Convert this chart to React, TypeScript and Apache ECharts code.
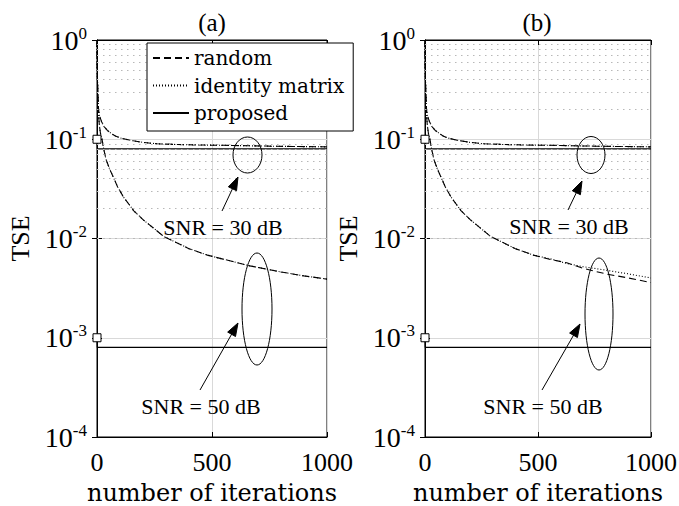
import React, { useEffect, useRef } from 'react';
import * as echarts from 'echarts';

const FONT = 'Liberation Serif, Times New Roman, serif';
const FONT_WIDE = 'DejaVu Serif, serif';

// ---- data ----
// panel (a), SNR = 30 dB
const iterA30 = [0, 1, 2, 4, 6, 10, 20, 30, 45, 60, 80, 100, 150, 200, 260, 350, 450, 550, 650, 750, 850, 1000];
const randomA30 = [1.0, 0.55, 0.4, 0.27, 0.21, 0.175, 0.15, 0.135, 0.123, 0.115, 0.108, 0.103, 0.097, 0.093, 0.09, 0.0885, 0.0875, 0.087, 0.086, 0.0852, 0.0846, 0.0838];
const identityA30 = [1.0, 0.55, 0.4, 0.27, 0.21, 0.175, 0.15, 0.135, 0.123, 0.115, 0.108, 0.103, 0.097, 0.093, 0.09, 0.0885, 0.0875, 0.087, 0.086, 0.0852, 0.0846, 0.0838];
// panel (a), SNR = 50 dB
const iterA50 = [0, 1, 2, 4, 6, 10, 15, 22, 30, 40, 55, 72, 90, 116, 160, 200, 290, 400, 480, 560, 665, 800, 900, 1000];
const randomA50 = [1.0, 0.55, 0.4, 0.27, 0.19, 0.14, 0.115, 0.1, 0.078, 0.062, 0.05, 0.041, 0.033, 0.026, 0.019, 0.0155, 0.0105, 0.0079, 0.0068, 0.0061, 0.0053, 0.0046, 0.0042, 0.0039];
const identityA50 = [1.0, 0.55, 0.4, 0.27, 0.19, 0.14, 0.115, 0.1, 0.078, 0.062, 0.05, 0.041, 0.033, 0.026, 0.019, 0.0155, 0.0105, 0.0079, 0.0068, 0.0061, 0.0053, 0.0046, 0.0042, 0.0039];
// panel (b), SNR = 30 dB
const iterB30 = [0, 1, 2, 4, 6, 10, 20, 30, 45, 60, 80, 100, 150, 200, 260, 350, 450, 550, 650, 750, 850, 1000];
const randomB30 = [1.0, 0.55, 0.4, 0.27, 0.21, 0.175, 0.15, 0.135, 0.123, 0.116, 0.108, 0.103, 0.097, 0.093, 0.09, 0.0885, 0.0875, 0.087, 0.086, 0.0852, 0.0846, 0.0838];
const identityB30 = [1.0, 0.55, 0.4, 0.27, 0.21, 0.175, 0.15, 0.135, 0.123, 0.116, 0.108, 0.103, 0.097, 0.093, 0.09, 0.0885, 0.0875, 0.087, 0.086, 0.0852, 0.0846, 0.0838];
// panel (b), SNR = 50 dB
const iterB50 = [0, 1, 2, 4, 6, 10, 15, 22, 30, 40, 55, 72, 90, 116, 160, 200, 290, 400, 480, 560, 627, 700, 800, 900, 1000];
const randomB50 = [1.0, 0.55, 0.4, 0.27, 0.19, 0.14, 0.115, 0.1, 0.078, 0.062, 0.05, 0.041, 0.033, 0.026, 0.019, 0.0155, 0.0105, 0.0079, 0.0068, 0.0061, 0.0057, 0.005, 0.0044, 0.004, 0.0036];
const identityB50 = [1.0, 0.55, 0.4, 0.27, 0.19, 0.14, 0.115, 0.1, 0.078, 0.062, 0.05, 0.041, 0.033, 0.026, 0.019, 0.0155, 0.0105, 0.0079, 0.0068, 0.0062, 0.0056, 0.0052, 0.0048, 0.0044, 0.004];
// proposed (start value marked with a square, then flat)
const proposedIter = [0, 1, 1000];
const proposed30 = [0.1, 0.08, 0.08];
const proposed50 = [0.001, 0.0008, 0.0008];

const xTicks = [0, 500, 1000];
const yMin = 1e-4;
const yMax = 1;
const legendNames = ['random', 'identity matrix', 'proposed'];
const panelTitles = ['(a)', '(b)'];
const snrLabels = ['SNR = 30 dB', 'SNR = 50 dB'];

const minorLevels: number[] = [];
for (let k = -4; k <= -1; k++) {
  for (let m = 2; m <= 9; m++) minorLevels.push(m * Math.pow(10, k));
}

const zip = (xs: number[], ys: number[]) => xs.map((x, i) => [x, ys[i]]);

const DASHED = [7, 4];
const DOTTED = [1, 2];

function lineSeries(name: string, data: any[], idx: number, type: any, extra: any = {}) {
  return {
    type: 'line',
    name,
    data,
    xAxisIndex: idx,
    yAxisIndex: idx,
    symbol: 'none',
    showSymbol: true,
    clip: true,
    lineStyle: { color: '#000', width: 1.1, type },
    itemStyle: { color: '#000' },
    emphasis: { disabled: true },
    z: 3,
    ...extra,
  };
}

function proposedSeries(vals: number[], idx: number) {
  const data: any[] = proposedIter.map((x, i) =>
    i === 0
      ? { value: [x, vals[i]], symbol: 'rect', symbolSize: 8, itemStyle: { color: '#fff', borderColor: '#000', borderWidth: 1 } }
      : [x, vals[i]]
  );
  return lineSeries('proposed', data, idx, 'solid', { lineStyle: { color: '#000', width: 1.1, type: 'solid' } });
}

function arrow(x1: number, y1: number, x2: number, y2: number) {
  const dx = x2 - x1;
  const dy = y2 - y1;
  const len = Math.sqrt(dx * dx + dy * dy);
  const ux = dx / len;
  const uy = dy / len;
  const hl = 13;
  const hw = 4.5;
  const bx = x2 - ux * hl;
  const by = y2 - uy * hl;
  return [
    { type: 'line', shape: { x1, y1, x2: bx + ux * 2, y2: by + uy * 2 }, style: { stroke: '#000', lineWidth: 1 }, z: 20 },
    {
      type: 'polygon',
      shape: { points: [[x2, y2], [bx - uy * hw, by + ux * hw], [bx + uy * hw, by - ux * hw]] },
      style: { fill: '#000', stroke: '#000', lineWidth: 1 },
      z: 20,
    },
  ];
}

function ellipse(cx: number, cy: number, rx: number, ry: number) {
  return { type: 'ellipse', shape: { cx, cy, rx, ry }, style: { fill: 'none', stroke: '#000', lineWidth: 1 }, z: 20 };
}

function label(text: string, x: number, y: number, size: number, family: string = FONT) {
  return {
    type: 'text',
    x,
    y,
    z: 20,
    style: { text, fill: '#000', fontFamily: family, fontSize: size, align: 'center', verticalAlign: 'middle' },
  };
}

const grids = [
  { left: 97, top: 40, width: 230, height: 397 },
  { left: 425, top: 40, width: 226, height: 397 },
];

export default function App() {
  const ref = useRef<HTMLDivElement>(null);
  useEffect(() => {
    if (!ref.current) return;
    const chart = echarts.init(ref.current, null, { renderer: 'svg' });

    const xAxes: any[] = grids.map((_, i) => ({
      type: 'value',
      gridIndex: i,
      min: xTicks[0],
      max: xTicks[xTicks.length - 1],
      interval: xTicks[1] - xTicks[0],
      name: 'number of iterations',
      nameLocation: 'middle',
      nameGap: 45,
      nameTextStyle: { fontFamily: FONT_WIDE, fontSize: 24, color: '#000', lineHeight: 22 },
      axisLine: { show: true, lineStyle: { color: '#000', width: 1 } },
      axisTick: { show: true, inside: true, length: 5, lineStyle: { color: '#000' } },
      axisLabel: { fontFamily: FONT, fontSize: 26, color: '#000', margin: 12, formatter: (v: number) => String(v) },
      splitLine: { show: true, lineStyle: { color: '#d9d9d9', width: 1 } },
    }));
    // top axes: tick marks only (box style)
    grids.forEach((_, i) => {
      xAxes.push({
        type: 'value',
        gridIndex: i,
        position: 'top',
        min: xTicks[0],
        max: xTicks[xTicks.length - 1],
        interval: xTicks[1] - xTicks[0],
        axisLine: { show: true, lineStyle: { color: '#000', width: 1 } },
        axisTick: { show: true, inside: true, length: 5, lineStyle: { color: '#000' } },
        axisLabel: { show: false },
        splitLine: { show: false },
      });
    });

    const yAxes: any[] = grids.map((_, i) => ({
      type: 'log',
      logBase: 10,
      gridIndex: i,
      min: yMin,
      max: yMax,
      name: 'TSE',
      nameLocation: 'middle',
      nameGap: 64,
      nameRotate: 90,
      nameTextStyle: { fontFamily: FONT, fontSize: 26, color: '#000' },
      axisLine: { show: true, lineStyle: { color: '#000', width: 1 } },
      axisTick: { show: true, inside: true, length: 5, lineStyle: { color: '#000' } },
      axisLabel: {
        margin: 10,
        formatter: (v: number) => `{b|10}{s|${Math.round(Math.log10(v))}}`,
        rich: {
          b: { fontFamily: FONT, fontSize: 28, color: '#000' },
          s: { fontFamily: FONT, fontSize: 17, color: '#000', padding: [0, 0, 14, 0] },
        },
      },
      splitLine: { show: true, lineStyle: { color: '#d9d9d9', width: 1 } },
    }));
    grids.forEach((_, i) => {
      yAxes.push({
        type: 'log',
        logBase: 10,
        gridIndex: i,
        position: 'right',
        min: yMin,
        max: yMax,
        axisLine: { show: true, lineStyle: { color: '#000', width: 1 } },
        axisTick: { show: true, inside: true, length: 5, lineStyle: { color: '#000' } },
        axisLabel: { show: false },
        splitLine: { show: false },
      });
    });

    const minorMark = {
      silent: true,
      symbol: ['none', 'none'],
      label: { show: false },
      lineStyle: { color: '#b8b8b8', type: [1.5, 4.5], width: 1 },
      emphasis: { disabled: true },
      animation: false,
      data: minorLevels.map((v) => ({ yAxis: v })),
    };

    const series: any[] = [
      lineSeries('random', zip(iterA30, randomA30), 0, DASHED, { markLine: minorMark }),
      lineSeries('identity matrix', zip(iterA30, identityA30), 0, DOTTED),
      lineSeries('random', zip(iterA50, randomA50), 0, DASHED),
      lineSeries('identity matrix', zip(iterA50, identityA50), 0, DOTTED),
      proposedSeries(proposed30, 0),
      proposedSeries(proposed50, 0),
      lineSeries('random', zip(iterB30, randomB30), 1, DASHED, { markLine: minorMark }),
      lineSeries('identity matrix', zip(iterB30, identityB30), 1, DOTTED),
      lineSeries('random', zip(iterB50, randomB50), 1, DASHED),
      lineSeries('identity matrix', zip(iterB50, identityB50), 1, DOTTED),
      proposedSeries(proposed30, 1),
      proposedSeries(proposed50, 1),
    ];

    const graphic: any[] = [
      label(panelTitles[0], 212, 22, 25),
      label(panelTitles[1], 537, 22, 25),
      label(snrLabels[0], 223, 227, 22),
      label(snrLabels[1], 201, 406, 22),
      label(snrLabels[0], 569, 226, 22),
      label(snrLabels[1], 543, 406, 22),
      ellipse(247.5, 155, 14.5, 18),
      ellipse(257, 309, 15, 56),
      ellipse(591, 155, 14, 18.5),
      ellipse(599, 314, 14, 56),
      ...arrow(222, 211, 238, 177),
      ...arrow(200, 390, 238, 323),
      ...arrow(568, 210, 582, 181),
      ...arrow(542, 390, 580, 324),
    ];

    chart.setOption({
      animation: false,
      backgroundColor: '#fff',
      textStyle: { fontFamily: FONT },
      grid: grids.map((g) => ({
        ...g,
        outerBoundsMode: 'none',
        containLabel: false,
        show: true,
        borderColor: '#000',
        borderWidth: 1,
        backgroundColor: 'transparent',
      })),
      xAxis: xAxes,
      yAxis: yAxes,
      legend: {
        data: legendNames,
        left: 147,
        top: 43,
        orient: 'vertical',
        itemWidth: 36,
        itemHeight: 10,
        itemGap: 5.5,
        padding: [4, 9, 7, 5],
        borderColor: '#000',
        borderWidth: 1,
        borderRadius: 0,
        backgroundColor: '#fff',
        selectedMode: false,
        itemStyle: { opacity: 0 },
        textStyle: { fontFamily: FONT_WIDE, fontSize: 20, color: '#000', lineHeight: 22 },
        z: 10,
      },
      series,
      graphic,
    });
    return () => chart.dispose();
  }, []);

  return <div ref={ref} style={{ position: 'fixed', left: 0, top: 0, width: 679, height: 506 }} />;
}
